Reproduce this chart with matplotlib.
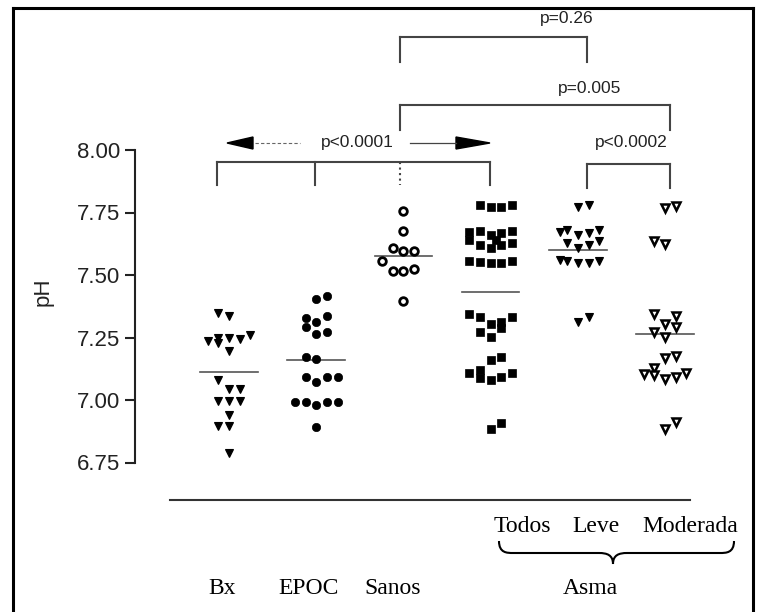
import matplotlib
matplotlib.use("Agg")
import matplotlib.pyplot as plt
import numpy as np
from matplotlib.lines import Line2D
from matplotlib.patches import Polygon, PathPatch
from matplotlib.path import Path

# ---- data -------------------------------------------------------------
groups = ["Bx", "EPOC", "Sanos", "Todos", "Leve", "Moderada"]

bx_ph = [7.348, 7.336, 7.236, 7.248, 7.228, 7.248, 7.244, 7.26, 7.196, 7.08,
         7.044, 7.044, 6.996, 6.996, 6.996, 6.94, 6.896, 6.896, 6.788]
epoc_ph = [7.404, 7.416, 7.328, 7.336, 7.312, 7.292, 7.264, 7.272, 7.172, 7.164,
           7.092, 7.072, 7.092, 7.092, 6.992, 6.992, 6.98, 6.992, 6.992, 6.892]
sanos_ph = [7.756, 7.676, 7.608, 7.596, 7.596, 7.556, 7.516, 7.516, 7.524, 7.396]
todos_ph = [7.78, 7.772, 7.772, 7.78,
            7.672, 7.676, 7.66, 7.668, 7.676, 7.64, 7.64,
            7.62, 7.608, 7.62, 7.628,
            7.556, 7.552, 7.548, 7.548, 7.556,
            7.344, 7.332, 7.332, 7.304, 7.312, 7.288, 7.272, 7.252,
            7.16, 7.172, 7.108, 7.12, 7.088, 7.08, 7.092, 7.108,
            6.884, 6.908]
leve_ph = [7.772, 7.78, 7.68, 7.66, 7.668, 7.68, 7.628, 7.608, 7.62, 7.636,
           7.56, 7.556, 7.548, 7.548, 7.556, 7.672, 7.312, 7.332]
moderada_ph = [7.768, 7.776, 7.636, 7.624, 7.344, 7.336, 7.304, 7.292, 7.272,
               7.252, 7.168, 7.176, 7.128, 7.104, 7.1, 7.084, 7.092, 7.108,
               6.884, 6.912]

group_means = [7.112, 7.16, 7.576, 7.432, 7.6, 7.264]

ytick_values = [6.75, 7.00, 7.25, 7.50, 7.75, 8.00]

# horizontal swarm slots of each point (layout only)
bx_slot = [-1, 0, -2, -1, -1, 0, 1, 2, 0, -1, 0, 1, -1, 0, 1, 0, -1, 0, 0]
epoc_slot = [0, 1, -1, 1, 0, -1, 0, 1, -1, 0, -1, 0, 1, 2, -2, -1, 0, 1, 2, 0]
sanos_slot = [0, 0, -1, 0, 1, -2, -1, 0, 1, 0]
todos_slot = [-1, 0, 1, 2,
              -2, -1, 0, 1, 2, -2, 0.5,
              -1, 0, 1, 2,
              -2, -1, 0, 1, 2,
              -2, -1, 2, 0, 1, 1, -1, 0,
              0, 1, -2, -1, -1, 0, 1, 2,
              0, 1]
leve_slot = [0, 1, -1, 0, 1, 2, -1, 0, 1, 2, -1.7, -1, 0, 1, 2, -1.7, 0, 1]
moderada_slot = [0, 1, -1, 0, -1, 1, 0, 1, -1, 0, 0, 1, -1, -2, -1, 0, 1, 2, 0, 1]

# ---- canvas: one axes over the whole figure, pixel helpers -----------
W, H = 760, 612
X0, DX = 229.0, 87.2          # pixel x of first column, column pitch
Y8, DY = 150.0, 250.0         # pixel y of pH 8.00, pixels per pH unit


def X(px):
    return (px - X0) / DX


def Y(py):
    return 8.0 - (py - Y8) / DY


fig = plt.figure(figsize=(W / 100, H / 100), dpi=100)
ax = fig.add_axes([0, 0, 1, 1])
ax.set_xlim(X(0), X(W))
ax.set_ylim(Y(H), Y(0))

for s in ["top", "right", "bottom"]:
    ax.spines[s].set_visible(False)
ax.spines["left"].set_position(("data", X(135)))
ax.spines["left"].set_bounds(6.75, 8.0)
ax.spines["left"].set_linewidth(1.5)
ax.spines["left"].set_color("#222222")
ax.set_xticks([])
ax.set_yticks(ytick_values)
ax.set_yticklabels([f"{v:.2f}" for v in ytick_values],
                   fontfamily="Liberation Sans", fontsize=16, color="#222222")
ax.tick_params(axis="y", direction="out", length=7.5, width=1.5, pad=3,
               color="#222222")
ax.text(X(43), Y(292), "pH", rotation=90, ha="center", va="center",
        fontfamily="Liberation Sans", fontsize=16, color="#222222")

# ---- points -----------------------------------------------------------
slot_w = 10.7 / DX
series = [
    (bx_ph, bx_slot, dict(marker="v", ms=6, mfc="black", mec="black", mew=0.8)),
    (epoc_ph, epoc_slot, dict(marker="o", ms=6, mfc="black", mec="black", mew=0.5)),
    (sanos_ph, sanos_slot, dict(marker="o", ms=5.5, mfc="white", mec="black", mew=2.0)),
    (todos_ph, todos_slot, dict(marker="s", ms=5.5, mfc="black", mec="black", mew=0.5)),
    (leve_ph, leve_slot, dict(marker="v", ms=6.2, mfc="black", mec="black", mew=0.8)),
    (moderada_ph, moderada_slot, dict(marker="v", ms=6.3, mfc="white", mec="black", mew=1.8)),
]
for i, (vals, slots, style) in enumerate(series):
    xs = i + np.asarray(slots) * slot_w
    ax.plot(xs, vals, ls="none", zorder=3, **style)

# group mean lines
for i, m in enumerate(group_means):
    ax.plot([i - 0.33, i + 0.33], [m, m], color="#555555", lw=1.2, zorder=2)

# ---- significance brackets -------------------------------------------
bc = "#444444"


def bracket(x_list, y_top, y_bot, lw=1.5, dotted=()):
    ax.plot([x_list[0], x_list[-1]], [Y(y_top), Y(y_top)], color=bc, lw=lw)
    for j, xv in enumerate(x_list):
        ax.plot([xv, xv], [Y(y_top), Y(y_bot)], color=bc, lw=lw,
                ls=":" if j in dotted else "-")


txt = dict(fontfamily="Liberation Sans", fontsize=12.5, color="#222222",
           ha="center", va="center")

bracket([X(400), X(587)], 37, 62)
ax.text(X(567), Y(19), "p=0.26", **txt)

bracket([X(400), X(670)], 105, 130)
ax.text(X(590), Y(88), "p=0.005", **txt)

bracket([X(217), X(315), X(400), X(490)], 162, 185, dotted=(2,))
ax.text(X(357), Y(143), "p<0.0001", **txt)
ax.add_patch(Polygon([[X(227), Y(143)], [X(253), Y(137)], [X(253), Y(149)]],
                     closed=True, color="black"))
ax.plot([X(255), X(300)], [Y(143), Y(143)], color="#666666", lw=0.8, ls=(0, (3, 2)))
ax.plot([X(410), X(456)], [Y(143), Y(143)], color="#444444", lw=0.9)
ax.add_patch(Polygon([[X(490), Y(143)], [X(456), Y(137)], [X(456), Y(149)]],
                     closed=True, color="black"))

bracket([X(587), X(670)], 164, 188)
ax.text(X(631), Y(143), "p<0.0002", **txt)

# ---- baseline and category labels ------------------------------------
ax.plot([X(170), X(690)], [Y(500), Y(500)], color="#333333", lw=1.5)

serif = dict(fontfamily="Liberation Serif", fontsize=17, color="black",
             ha="center", va="center")
ax.text(X(522), Y(526), "Todos", **serif)
ax.text(X(596), Y(526), "Leve", **serif)
ax.text(X(690), Y(526), "Moderada", **serif)
for label, px in [("Bx", 222), ("EPOC", 309), ("Sanos", 393), ("Asma", 590)]:
    ax.text(X(px), Y(588), label, **serif)

# curly brace under the asthma sub-groups
xl, xm, xr = 499, 613, 734
yt, yh, yb = 541, 553, 564
verts_px = [
    (xl, yt), (xl, yh), (xl + 8, yh), (xl + 14, yh),
    (xm - 14, yh), (xm - 14, yh), (xm - 14, yh),
    (xm - 6, yh), (xm, yh + 2), (xm, yb),
    (xm, yh + 2), (xm + 6, yh), (xm + 14, yh),
    (xr - 14, yh), (xr - 14, yh), (xr - 14, yh),
    (xr - 8, yh), (xr, yh), (xr, yt),
]
codes = [Path.MOVETO, Path.CURVE4, Path.CURVE4, Path.CURVE4,
         Path.LINETO, Path.LINETO, Path.LINETO,
         Path.CURVE4, Path.CURVE4, Path.CURVE4,
         Path.CURVE4, Path.CURVE4, Path.CURVE4,
         Path.LINETO, Path.LINETO, Path.LINETO,
         Path.CURVE4, Path.CURVE4, Path.CURVE4]
brace = Path([(X(a), Y(b)) for a, b in verts_px], codes)
ax.add_patch(PathPatch(brace, fill=False, lw=1.5, color="black"))

# ---- outer frame -----------------------------------------------------
for xs_, ys_ in [([13, 13], [8, H]), ([13, 753], [8, 8]), ([753, 753], [8, H])]:
    fig.add_artist(Line2D([v / W for v in xs_], [1 - v / H for v in ys_],
                          transform=fig.transFigure, color="black", lw=2.2))

fig.savefig("out.png", dpi=100)
